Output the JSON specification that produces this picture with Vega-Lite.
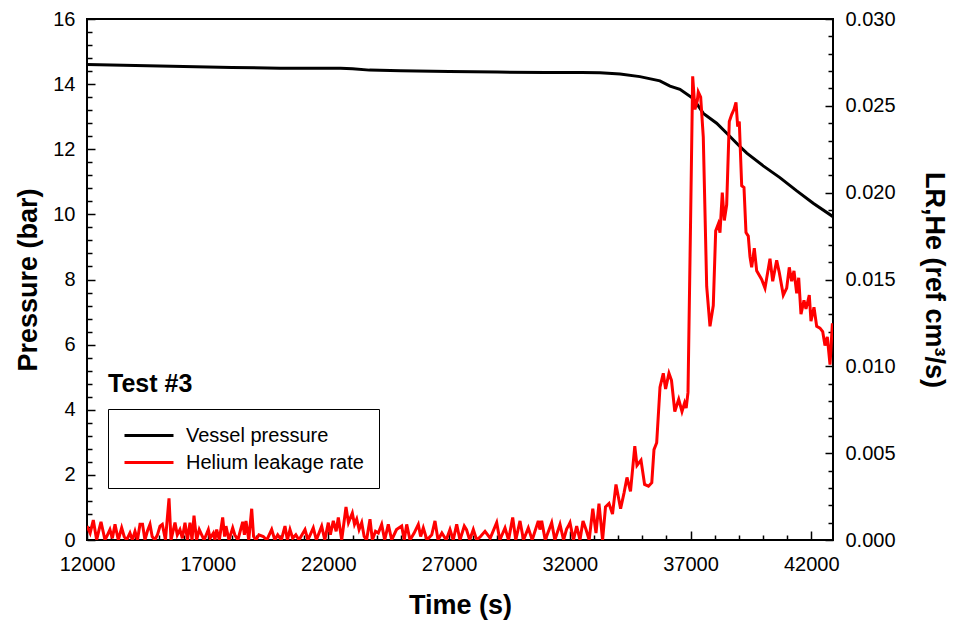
{
  "$schema": "https://vega.github.io/schema/vega-lite/v6.json",
  "width": 746,
  "height": 521,
  "autosize": "none",
  "padding": {"left": 87, "top": 19, "right": 120, "bottom": 84},
  "background": "white",
  "config": {
    "font": "Liberation Sans",
    "view": {"stroke": "black", "strokeWidth": 2},
    "axis": {
      "grid": false,
      "ticks": true,
      "domain": false,
      "tickColor": "black",
      "tickWidth": 1.5,
      "labelFont": "Liberation Sans",
      "labelFontSize": 20,
      "labelColor": "black",
      "titleFont": "Liberation Sans",
      "titleFontSize": 27,
      "titleFontWeight": "bold",
      "titleColor": "black",
      "labelOverlap": false,
      "labelFlush": false
    }
  },
  "datasets": {
    "pressure": [
      {"t": 12000, "p": 14.6}, {"t": 14000, "p": 14.57}, {"t": 16000, "p": 14.54}, {"t": 18000, "p": 14.51},
      {"t": 20000, "p": 14.49}, {"t": 22500, "p": 14.49}, {"t": 23000, "p": 14.47}, {"t": 23700, "p": 14.43},
      {"t": 25000, "p": 14.41}, {"t": 27000, "p": 14.39}, {"t": 29000, "p": 14.37}, {"t": 31000, "p": 14.36},
      {"t": 32500, "p": 14.36}, {"t": 33250, "p": 14.35}, {"t": 34080, "p": 14.31}, {"t": 34900, "p": 14.23},
      {"t": 35730, "p": 14.1}, {"t": 36150, "p": 13.94}, {"t": 36560, "p": 13.84}, {"t": 37110, "p": 13.56},
      {"t": 37530, "p": 13.1}, {"t": 38080, "p": 12.8}, {"t": 38500, "p": 12.49}, {"t": 38980, "p": 12.13},
      {"t": 39330, "p": 11.88}, {"t": 40010, "p": 11.49}, {"t": 40700, "p": 11.13}, {"t": 41400, "p": 10.72},
      {"t": 42080, "p": 10.34}, {"t": 42900, "p": 9.93}
    ],
    "leak": [
      {"t": 12000, "L": 0.0008}, {"t": 12130, "L": 0.0004}, {"t": 12261, "L": 0.00115}, {"t": 12400, "L": 0.0},
      {"t": 12500, "L": 0.0006}, {"t": 12580, "L": 0.00105}, {"t": 12745, "L": 0.0}, {"t": 12850, "L": 0.0003},
      {"t": 12950, "L": 0.0006}, {"t": 13050, "L": 0.0001}, {"t": 13160, "L": 0.0009}, {"t": 13297, "L": 0.0},
      {"t": 13436, "L": 0.0007}, {"t": 13540, "L": 0.0002}, {"t": 13644, "L": 0.0}, {"t": 13780, "L": 0.0004},
      {"t": 13880, "L": 0.0}, {"t": 13988, "L": 0.0005}, {"t": 14090, "L": 0.0}, {"t": 14195, "L": 0.0009},
      {"t": 14300, "L": 0.0009}, {"t": 14400, "L": 0.0}, {"t": 14500, "L": 0.0005}, {"t": 14609, "L": 0.0009},
      {"t": 14700, "L": 0.0002}, {"t": 14810, "L": 0.0}, {"t": 14920, "L": 0.0003}, {"t": 15024, "L": 0.0008},
      {"t": 15120, "L": 0.0009}, {"t": 15250, "L": 0.0}, {"t": 15397, "L": 0.0024}, {"t": 15480, "L": 0.0},
      {"t": 15645, "L": 0.001}, {"t": 15740, "L": 0.0003}, {"t": 15850, "L": 0.0006}, {"t": 15950, "L": 0.0001},
      {"t": 16059, "L": 0.001}, {"t": 16160, "L": 0.0}, {"t": 16266, "L": 0.001}, {"t": 16350, "L": 0.0},
      {"t": 16432, "L": 0.0014}, {"t": 16540, "L": 0.0}, {"t": 16650, "L": 0.0006}, {"t": 16750, "L": 0.0003},
      {"t": 16850, "L": 0.0}, {"t": 17026, "L": 0.0006}, {"t": 17100, "L": 0.0001}, {"t": 17233, "L": 0.0004},
      {"t": 17300, "L": 0.0}, {"t": 17372, "L": 0.0006}, {"t": 17480, "L": 0.0}, {"t": 17620, "L": 0.0013},
      {"t": 17700, "L": 0.0002}, {"t": 17757, "L": 0.0008}, {"t": 17880, "L": 0.0}, {"t": 18035, "L": 0.0007},
      {"t": 18120, "L": 0.0003}, {"t": 18250, "L": 0.0}, {"t": 18449, "L": 0.00105}, {"t": 18520, "L": 0.0003},
      {"t": 18586, "L": 0.0011}, {"t": 18700, "L": 0.0}, {"t": 18822, "L": 0.0018}, {"t": 18900, "L": 0.0002},
      {"t": 19000, "L": 0.0}, {"t": 19120, "L": 0.0003}, {"t": 19303, "L": 0.0002}, {"t": 19450, "L": 0.0},
      {"t": 19650, "L": 0.0006}, {"t": 19780, "L": 0.0}, {"t": 19900, "L": 0.0003}, {"t": 20050, "L": 0.0},
      {"t": 20201, "L": 0.0008}, {"t": 20300, "L": 0.0}, {"t": 20408, "L": 0.0006}, {"t": 20520, "L": 0.0001},
      {"t": 20650, "L": 0.0003}, {"t": 20780, "L": 0.0}, {"t": 21030, "L": 0.0006}, {"t": 21150, "L": 0.0},
      {"t": 21373, "L": 0.0007}, {"t": 21500, "L": 0.0}, {"t": 21721, "L": 0.0008}, {"t": 21850, "L": 0.0},
      {"t": 21995, "L": 0.001}, {"t": 22080, "L": 0.0003}, {"t": 22202, "L": 0.0011}, {"t": 22320, "L": 0.0005},
      {"t": 22410, "L": 0.0013}, {"t": 22550, "L": 0.0}, {"t": 22728, "L": 0.0019}, {"t": 22830, "L": 0.001},
      {"t": 22990, "L": 0.00155}, {"t": 23080, "L": 0.0009}, {"t": 23172, "L": 0.0012}, {"t": 23270, "L": 0.0006},
      {"t": 23379, "L": 0.001}, {"t": 23480, "L": 0.0002}, {"t": 23580, "L": 0.0}, {"t": 23722, "L": 0.0012},
      {"t": 23820, "L": 0.0}, {"t": 23950, "L": 0.0005}, {"t": 24066, "L": 0.0004}, {"t": 24206, "L": 0.0009},
      {"t": 24330, "L": 0.0}, {"t": 24480, "L": 0.0009}, {"t": 24620, "L": 0.0}, {"t": 24820, "L": 0.0006},
      {"t": 25035, "L": 0.0008}, {"t": 25140, "L": 0.0}, {"t": 25242, "L": 0.0009}, {"t": 25380, "L": 0.0},
      {"t": 25550, "L": 0.0004}, {"t": 25723, "L": 0.0009}, {"t": 25820, "L": 0.0002}, {"t": 25930, "L": 0.0007},
      {"t": 26080, "L": 0.0}, {"t": 26280, "L": 0.0003}, {"t": 26414, "L": 0.0011}, {"t": 26540, "L": 0.0},
      {"t": 26700, "L": 0.0004}, {"t": 26880, "L": 0.0}, {"t": 27035, "L": 0.0006}, {"t": 27170, "L": 0.0},
      {"t": 27313, "L": 0.0009}, {"t": 27450, "L": 0.0}, {"t": 27628, "L": 0.0008}, {"t": 27720, "L": 0.0006},
      {"t": 27850, "L": 0.0}, {"t": 28001, "L": 0.0006}, {"t": 28140, "L": 0.0}, {"t": 28300, "L": 0.0002},
      {"t": 28486, "L": 0.0005}, {"t": 28700, "L": 0.0001}, {"t": 28970, "L": 0.001}, {"t": 29100, "L": 0.0},
      {"t": 29314, "L": 0.0007}, {"t": 29460, "L": 0.0}, {"t": 29633, "L": 0.0013}, {"t": 29760, "L": 0.0},
      {"t": 29935, "L": 0.0011}, {"t": 30080, "L": 0.0}, {"t": 30279, "L": 0.0007}, {"t": 30440, "L": 0.0},
      {"t": 30693, "L": 0.0011}, {"t": 30760, "L": 0.0006}, {"t": 30833, "L": 0.0011}, {"t": 30980, "L": 0.0},
      {"t": 31248, "L": 0.001}, {"t": 31380, "L": 0.0}, {"t": 31592, "L": 0.0009}, {"t": 31740, "L": 0.0},
      {"t": 31865, "L": 0.00063}, {"t": 31936, "L": 0.0008}, {"t": 32006, "L": 0.001}, {"t": 32150, "L": 0.0},
      {"t": 32283, "L": 0.0008}, {"t": 32420, "L": 0.0}, {"t": 32545, "L": 0.0011}, {"t": 32670, "L": 0.0006},
      {"t": 32800, "L": 0.0}, {"t": 32950, "L": 0.0018}, {"t": 33083, "L": 0.0004}, {"t": 33207, "L": 0.0021},
      {"t": 33356, "L": 0.0}, {"t": 33477, "L": 0.0019}, {"t": 33622, "L": 0.0021}, {"t": 33767, "L": 0.0015},
      {"t": 33911, "L": 0.0032}, {"t": 34102, "L": 0.0018}, {"t": 34243, "L": 0.0027}, {"t": 34367, "L": 0.0036},
      {"t": 34512, "L": 0.0028}, {"t": 34690, "L": 0.0054}, {"t": 34781, "L": 0.0043}, {"t": 34947, "L": 0.0046},
      {"t": 35096, "L": 0.0032}, {"t": 35257, "L": 0.0031}, {"t": 35394, "L": 0.0033}, {"t": 35485, "L": 0.0052},
      {"t": 35597, "L": 0.0056}, {"t": 35734, "L": 0.0088}, {"t": 35870, "L": 0.0096}, {"t": 35966, "L": 0.0087},
      {"t": 36106, "L": 0.0096}, {"t": 36210, "L": 0.0092}, {"t": 36347, "L": 0.0074}, {"t": 36509, "L": 0.0081},
      {"t": 36645, "L": 0.0074}, {"t": 36753, "L": 0.0079}, {"t": 36819, "L": 0.0076}, {"t": 36894, "L": 0.0085},
      {"t": 36997, "L": 0.018}, {"t": 37088, "L": 0.0267}, {"t": 37183, "L": 0.0248}, {"t": 37279, "L": 0.0253},
      {"t": 37320, "L": 0.0258}, {"t": 37419, "L": 0.0255}, {"t": 37527, "L": 0.0232}, {"t": 37668, "L": 0.0146},
      {"t": 37805, "L": 0.0123}, {"t": 37941, "L": 0.0135}, {"t": 38041, "L": 0.0178}, {"t": 38149, "L": 0.0182},
      {"t": 38219, "L": 0.0177}, {"t": 38314, "L": 0.02}, {"t": 38397, "L": 0.0184}, {"t": 38496, "L": 0.0193},
      {"t": 38604, "L": 0.0241}, {"t": 38703, "L": 0.0245}, {"t": 38799, "L": 0.0248}, {"t": 38882, "L": 0.0252},
      {"t": 38952, "L": 0.0238}, {"t": 39018, "L": 0.0241}, {"t": 39118, "L": 0.0204}, {"t": 39213, "L": 0.0203},
      {"t": 39296, "L": 0.0177}, {"t": 39391, "L": 0.0175}, {"t": 39462, "L": 0.0163}, {"t": 39532, "L": 0.0157},
      {"t": 39640, "L": 0.0168}, {"t": 39739, "L": 0.0155}, {"t": 39946, "L": 0.015}, {"t": 40083, "L": 0.0145},
      {"t": 40290, "L": 0.0162}, {"t": 40402, "L": 0.0149}, {"t": 40567, "L": 0.0161}, {"t": 40675, "L": 0.0154},
      {"t": 40841, "L": 0.0141}, {"t": 40982, "L": 0.0145}, {"t": 41089, "L": 0.0157}, {"t": 41189, "L": 0.0149},
      {"t": 41284, "L": 0.0155}, {"t": 41396, "L": 0.0142}, {"t": 41479, "L": 0.0151}, {"t": 41574, "L": 0.013},
      {"t": 41698, "L": 0.0138}, {"t": 41781, "L": 0.0133}, {"t": 41918, "L": 0.0141}, {"t": 41988, "L": 0.0126},
      {"t": 42112, "L": 0.0134}, {"t": 42224, "L": 0.0123}, {"t": 42361, "L": 0.0122}, {"t": 42473, "L": 0.012},
      {"t": 42568, "L": 0.0112}, {"t": 42664, "L": 0.0117}, {"t": 42776, "L": 0.0101}, {"t": 42871, "L": 0.0124},
      {"t": 42900, "L": 0.0124}
    ],
    "note": [{"t": 12870, "p": 4.79, "label": "Test #3"}]
  },
  "encoding": {
    "x": {
      "field": "t", "type": "quantitative",
      "scale": {"domain": [12000, 42900], "nice": false, "zero": false},
      "axis": {
        "title": "Time (s)",
        "values": [12000, 13000, 14000, 15000, 16000, 17000, 18000, 19000, 20000, 21000, 22000, 23000, 24000, 25000, 26000, 27000, 28000, 29000, 30000, 31000, 32000, 33000, 34000, 35000, 36000, 37000, 38000, 39000, 40000, 41000, 42000],
        "labelExpr": "datum.value % 5000 == 2000 ? format(datum.value, 'd') : ''",
        "tickSize": {"condition": {"test": "datum.value % 5000 == 2000", "value": -9}, "value": -5},
        "labelPadding": 23,
        "titlePadding": 14
      }
    }
  },
  "layer": [
    {
      "data": {"name": "pressure"},
      "mark": {"type": "line", "strokeWidth": 3, "clip": true},
      "encoding": {
        "y": {
          "field": "p", "type": "quantitative",
          "scale": {"domain": [0, 16], "nice": false},
          "axis": {
            "title": "Pressure (bar)",
            "orient": "left",
            "values": [0, 0.4, 0.8, 1.2, 1.6, 2, 2.4, 2.8, 3.2, 3.6, 4, 4.4, 4.8, 5.2, 5.6, 6, 6.4, 6.8, 7.2, 7.6, 8, 8.4, 8.8, 9.2, 9.6, 10, 10.4, 10.8, 11.2, 11.6, 12, 12.4, 12.8, 13.2, 13.6, 14, 14.4, 14.8, 15.2, 15.6, 16],
            "labelExpr": "abs(datum.value - round(datum.value / 2) * 2) < 0.000001 ? format(datum.value, 'd') : ''",
            "tickSize": {"condition": {"test": "abs(datum.value - round(datum.value / 2) * 2) < 0.000001", "value": -8}, "value": -5},
            "labelPadding": 20,
            "titlePadding": 10
          }
        },
        "color": {
          "datum": "Vessel pressure",
          "type": "nominal",
          "scale": {"domain": ["Vessel pressure", "Helium leakage rate"], "range": ["#000000", "#ff0000"]},
          "legend": {
            "title": null,
            "orient": "none",
            "legendX": 21,
            "legendY": 390,
            "direction": "vertical",
            "symbolType": "M-1,0H3.9",
            "symbolSize": 400,
            "symbolStrokeWidth": 3,
            "labelFontSize": 20,
            "labelFont": "Liberation Sans",
            "labelColor": "black",
            "labelLimit": 400,
            "labelOffset": 40,
            "padding": 15,
            "rowPadding": 5,
            "strokeColor": "black",
            "fillColor": "white"
          }
        }
      }
    },
    {
      "data": {"name": "leak"},
      "mark": {"type": "line", "strokeWidth": 3, "clip": true},
      "encoding": {
        "y": {
          "field": "L", "type": "quantitative",
          "scale": {"domain": [0, 0.03], "nice": false},
          "axis": {
            "title": "LR,He (ref cm³/s)",
            "orient": "right",
            "values": [0, 0.001, 0.002, 0.003, 0.004, 0.005, 0.006, 0.007, 0.008, 0.009, 0.01, 0.011, 0.012, 0.013, 0.014, 0.015, 0.016, 0.017, 0.018, 0.019, 0.02, 0.021, 0.022, 0.023, 0.024, 0.025, 0.026, 0.027, 0.028, 0.029, 0.03],
            "labelExpr": "abs(datum.value * 200 - round(datum.value * 200)) < 0.000001 ? format(datum.value, '.3f') : ''",
            "tickSize": {"condition": {"test": "abs(datum.value * 200 - round(datum.value * 200)) < 0.000001", "value": -8}, "value": -5},
            "labelPadding": 20,
            "titlePadding": 24
          }
        },
        "color": {"datum": "Helium leakage rate", "type": "nominal"}
      }
    },
    {
      "data": {"name": "note"},
      "mark": {"type": "text", "align": "left", "baseline": "middle", "fontSize": 25, "fontWeight": "bold", "font": "Liberation Sans", "color": "black"},
      "encoding": {
        "y": {"field": "p", "type": "quantitative", "scale": {"domain": [0, 16], "nice": false}, "axis": null},
        "text": {"field": "label"}
      }
    }
  ],
  "resolve": {"scale": {"y": "independent"}}
}
